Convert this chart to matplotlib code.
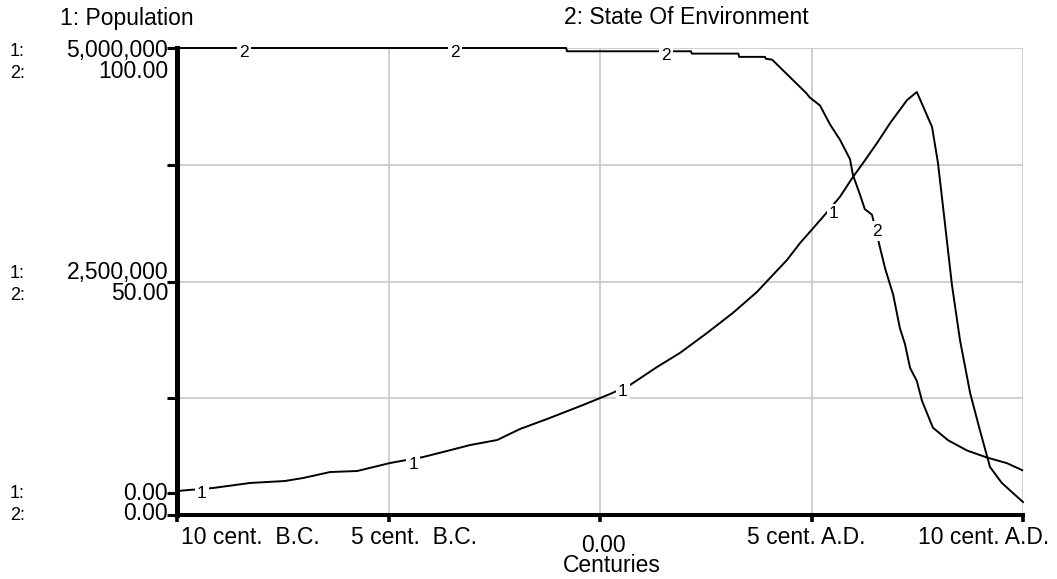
import matplotlib
matplotlib.use("Agg")
import matplotlib.pyplot as plt

plt.rcParams["font.family"] = ["Liberation Sans", "DejaVu Sans"]

W, H = 1057, 579

# time axis in centuries (-10 = 10 cent. B.C., +10 = 10 cent. A.D.)
pop_t = [-10.0, -9.15, -8.27, -7.45, -7.02, -6.38, -5.74, -4.96, -4.18, -3.62,
         -3.07, -2.43, -1.89, -1.25, -0.40, 0.24, 0.71, 1.35, 1.89, 2.53,
         3.14, 3.71, 4.02, 4.42, 4.73, 5.25, 5.67, 5.98, 6.22, 6.55,
         6.86, 7.26, 7.49, 7.85, 7.99, 8.11, 8.32, 8.51, 8.75, 8.98,
         9.22, 9.50, 9.76, 10.0]
population = [257e3, 289e3, 343e3, 364e3, 396e3, 460e3, 471e3, 557e3, 621e3, 685e3,
              749e3, 803e3, 921e3, 1028e3, 1178e3, 1296e3, 1392e3, 1585e3, 1735e3, 1949e3,
              2163e3, 2388e3, 2538e3, 2730e3, 2912e3, 3180e3, 3405e3, 3619e3, 3769e3, 3983e3,
              4197e3, 4443e3, 4529e3, 4154e3, 3769e3, 3298e3, 2463e3, 1874e3, 1306e3, 910e3,
              514e3, 343e3, 236e3, 139e3]

env_t = [-10.0, -0.80, -0.78, 2.15, 2.17, 3.27, 3.29, 3.90, 3.92, 4.07,
         4.87, 4.96, 5.20, 5.44, 5.67, 5.91, 5.98, 6.15, 6.26, 6.43,
         6.74, 6.93, 7.09, 7.21, 7.33, 7.49, 7.61, 7.87, 8.23, 8.68,
         9.15, 9.62, 9.98]
environment = [100.0, 100.0, 99.3, 99.3, 98.8, 98.8, 98.1, 98.1, 97.7, 97.5,
               90.4, 89.4, 87.7, 83.6, 80.4, 76.2, 72.8, 68.5, 65.5, 64.3,
               52.8, 47.2, 40.0, 36.6, 31.5, 28.7, 24.5, 18.7, 16.0, 13.8,
               12.3, 11.1, 9.6]

# curve number markers along each line
pop_marks_t = [-9.41, -4.42, 0.54, 5.53]
pop_marks_v = [225e3, 546e3, 1317e3, 3223e3]
env_marks_t = [-8.42, -3.43, 1.56, 6.55]
env_marks_v = [99.1, 99.1, 98.5, 60.8]

x_ticks = [-10, -5, 0, 5, 10]
x_labels = ["10 cent.  B.C.", "5 cent.  B.C.", "0.00", "5 cent. A.D.", "10 cent. A.D."]
x_label_px = [250, 414, 603, 806, 984]
x_label_py = [537, 537, 545, 537, 537]

pop_ticks = [0, 1.25e6, 2.5e6, 3.75e6, 5e6]

fig = plt.figure(figsize=(W / 100, H / 100), dpi=100)
ax = fig.add_axes([177 / W, 1 - 515 / H, (1023 - 177) / W, (515 - 48) / H])
ax2 = ax.twinx()

ax.set_xlim(-10, 10)
ax.set_ylim(0, 5e6)
ax2.set_ylim(0, 100)

ax.set_xticks(x_ticks)
ax.set_xticklabels([])
ax.set_yticks(pop_ticks)
ax.set_yticks([236e3], minor=True)
ax.set_yticklabels([])
ax.grid(True, color="#c4c4c4", lw=1.1, zorder=0)
ax.set_axisbelow(True)
ax.tick_params(axis="x", direction="out", length=5, width=2.6, color="black")
ax.tick_params(axis="y", which="both", direction="out", length=7, width=2.2, color="black")

for s in ["top", "right"]:
    ax.spines[s].set_visible(False)
ax.spines["left"].set_linewidth(3.6)
ax.spines["bottom"].set_linewidth(2.9)
for s in ax2.spines.values():
    s.set_visible(False)
ax2.set_yticks([])

ax.plot(pop_t, population, color="black", lw=1.4, zorder=3, clip_on=False)
ax2.plot(env_t, environment, color="black", lw=1.4, zorder=3, clip_on=False)

box = dict(facecolor="white", edgecolor="none", pad=1.5)
for t, v in zip(pop_marks_t, pop_marks_v):
    ax.text(t, v, "1", fontsize=12.5, ha="center", va="center", bbox=box, zorder=4)
for t, v in zip(env_marks_t, env_marks_v):
    ax2.text(t, v, "2", fontsize=12.5, ha="center", va="center", bbox=box, zorder=4)


def ftext(px, py, s, **kw):
    fig.text(px / W, 1 - py / H, s, va="center", **kw)


# headers
ftext(127, 18, "1: Population", fontsize=16.5, ha="center")
ftext(686, 18, "2: State Of Environment", fontsize=16.5, ha="center")

# scale labels for both series on the left
left_rows = [("1:", "5,000,000", 51), ("2:", "100.00", 72),
             ("1:", "2,500,000", 272), ("2:", "50.00", 294),
             ("1:", "0.00", 493), ("2:", "0.00", 514)]
for key, val, py in left_rows:
    ftext(10, py + 1, key, fontsize=13, ha="left")
    ftext(168, py, val, fontsize=16.5, ha="right")

for lab, px, py in zip(x_labels, x_label_px, x_label_py):
    ftext(px, py, lab, fontsize=16.5, ha="center")
ftext(612, 566, "Centuries", fontsize=16.5, ha="center")

fig.savefig("out.png", dpi=100)
